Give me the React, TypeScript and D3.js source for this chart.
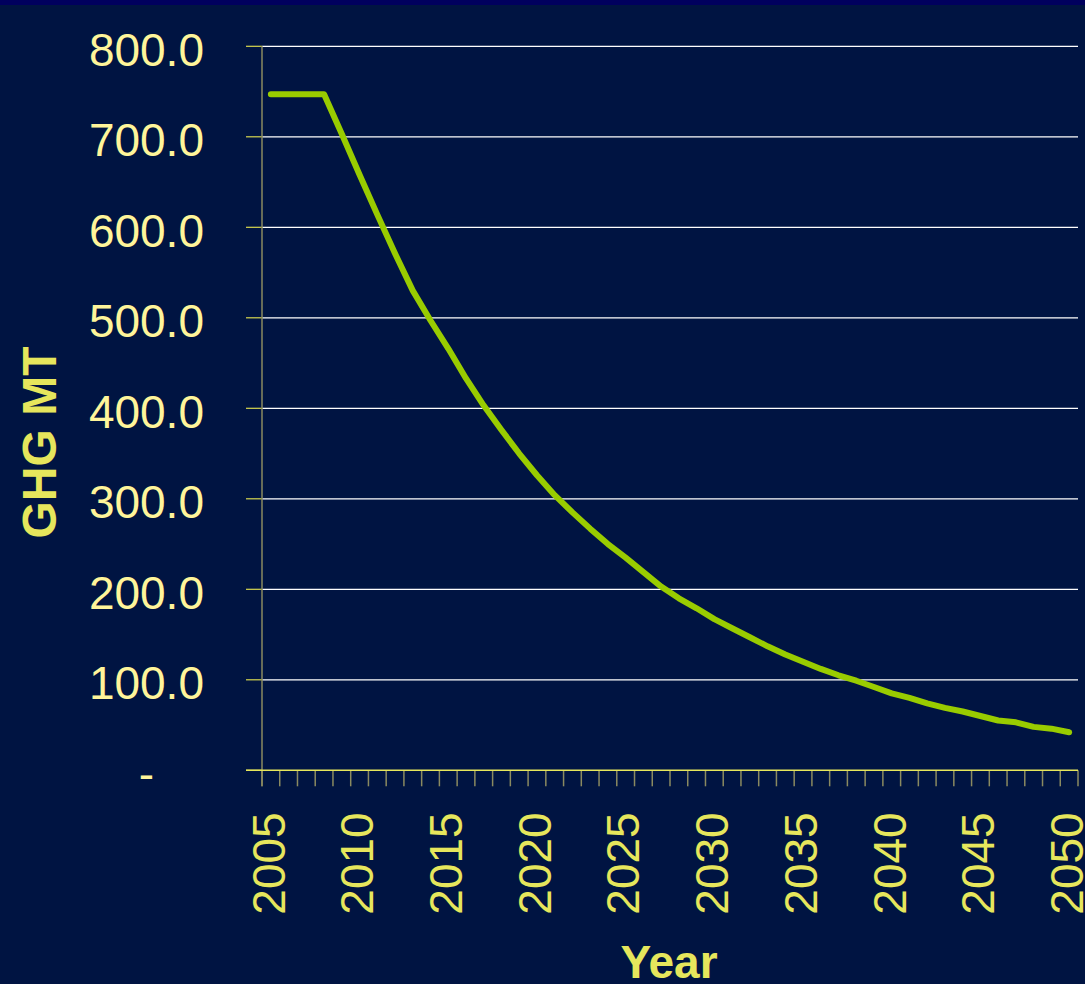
import React from "react";
import * as d3 from "d3";

const years: number[] = d3.range(2005, 2051);
const ghg: number[] = [
  747, 747, 747, 747, 703, 658, 614, 571, 530, 497,
  466, 433, 403, 376, 350, 326, 304, 285, 267, 250,
  235, 219, 203, 190, 179, 167, 157, 147, 137, 128,
  120, 112, 105, 99, 92, 85, 80, 74, 69, 65,
  60, 55, 53, 48, 46, 42,
];
const yTicks: number[] = [0, 100, 200, 300, 400, 500, 600, 700, 800];
const yTickLabels: string[] = ["-", "100.0", "200.0", "300.0", "400.0", "500.0", "600.0", "700.0", "800.0"];
const xLabelYears: number[] = [2005, 2010, 2015, 2020, 2025, 2030, 2035, 2040, 2045, 2050];

const W = 1085;
const H = 984;
const plotLeft = 262;
const plotRight = 1078;
const plotTop = 46.3;
const plotBottom = 770.3;

export default function App() {
  const x = d3.scaleBand<number>().domain(years).range([plotLeft, plotRight]).padding(0);
  const bw = x.bandwidth();
  const cx = (yr: number) => (x(yr) as number) + bw / 2;
  const y = d3.scaleLinear().domain([0, 800]).range([plotBottom, plotTop]);

  const line = d3
    .line<number>()
    .x((_, i) => cx(years[i]))
    .y((v) => y(v));

  const tickXs = years.map((yr) => x(yr) as number).concat([plotRight]);

  const font = "'Liberation Sans', Arial, sans-serif";

  return (
    <svg
      width={W}
      height={H}
      style={{ position: "absolute", left: 0, top: 0, display: "block" }}
    >
      <rect x={0} y={0} width={W} height={H} fill="#001442" />
      <rect x={0} y={0} width={W} height={5} fill="#00005e" />

      {/* gridlines */}
      {yTicks
        .filter((t) => t > 0)
        .map((t) => (
          <line key={"g" + t} x1={plotLeft} x2={plotRight} y1={y(t)} y2={y(t)} stroke="#ffffff" strokeWidth={1.2} />
        ))}

      {/* y ticks */}
      {yTicks.map((t) => (
        <line key={"yt" + t} x1={plotLeft - 16} x2={plotLeft} y1={y(t)} y2={y(t)} stroke="#d8d850" strokeWidth={1.2} />
      ))}

      {/* y axis line */}
      <line x1={plotLeft} x2={plotLeft} y1={plotTop} y2={plotBottom + 16} stroke="#8a8a60" strokeWidth={1.5} />

      {/* x ticks */}
      {tickXs.map((tx, i) => (
        <line key={"xt" + i} x1={tx} x2={tx} y1={plotBottom} y2={plotBottom + 16} stroke="#8a8a60" strokeWidth={1.5} />
      ))}
      {/* x axis line */}
      <line x1={plotLeft - 16} x2={plotRight} y1={plotBottom} y2={plotBottom} stroke="#e6e65c" strokeWidth={1.5} />

      {/* y tick labels */}
      {yTicks.map((t, i) => (
        <text
          key={"yl" + t}
          x={204}
          dx={t === 0 ? -50 : 0}
          y={y(t)}
          dy="0.42em"
          textAnchor="end"
          fontFamily={font}
          fontSize={46}
          fill="#fff59a"
        >
          {yTickLabels[i]}
        </text>
      ))}

      {/* x tick labels */}
      {xLabelYears.map((yr) => (
        <text
          key={"xl" + yr}
          transform={`translate(${cx(yr)},${plotBottom + 42}) rotate(-90)`}
          dy="0.30em"
          textAnchor="end"
          fontFamily={font}
          fontSize={46}
          fill="#e6e65c"
        >
          {yr}
        </text>
      ))}

      {/* axis titles */}
      <text
        x={669}
        y={978}
        textAnchor="middle"
        fontFamily={font}
        fontWeight="bold"
        fontSize={46}
        fill="#e6e65c"
      >
        Year
      </text>
      <text
        transform={`translate(39,442.5) rotate(-90)`}
        dy="0.36em"
        textAnchor="middle"
        fontFamily={font}
        fontWeight="bold"
        fontSize={48}
        fill="#e6e65c"
      >
        GHG MT
      </text>

      {/* data line */}
      <path
        d={line(ghg) || ""}
        fill="none"
        stroke="#99cc00"
        strokeWidth={6}
        strokeLinecap="round"
        strokeLinejoin="round"
      />
    </svg>
  );
}
